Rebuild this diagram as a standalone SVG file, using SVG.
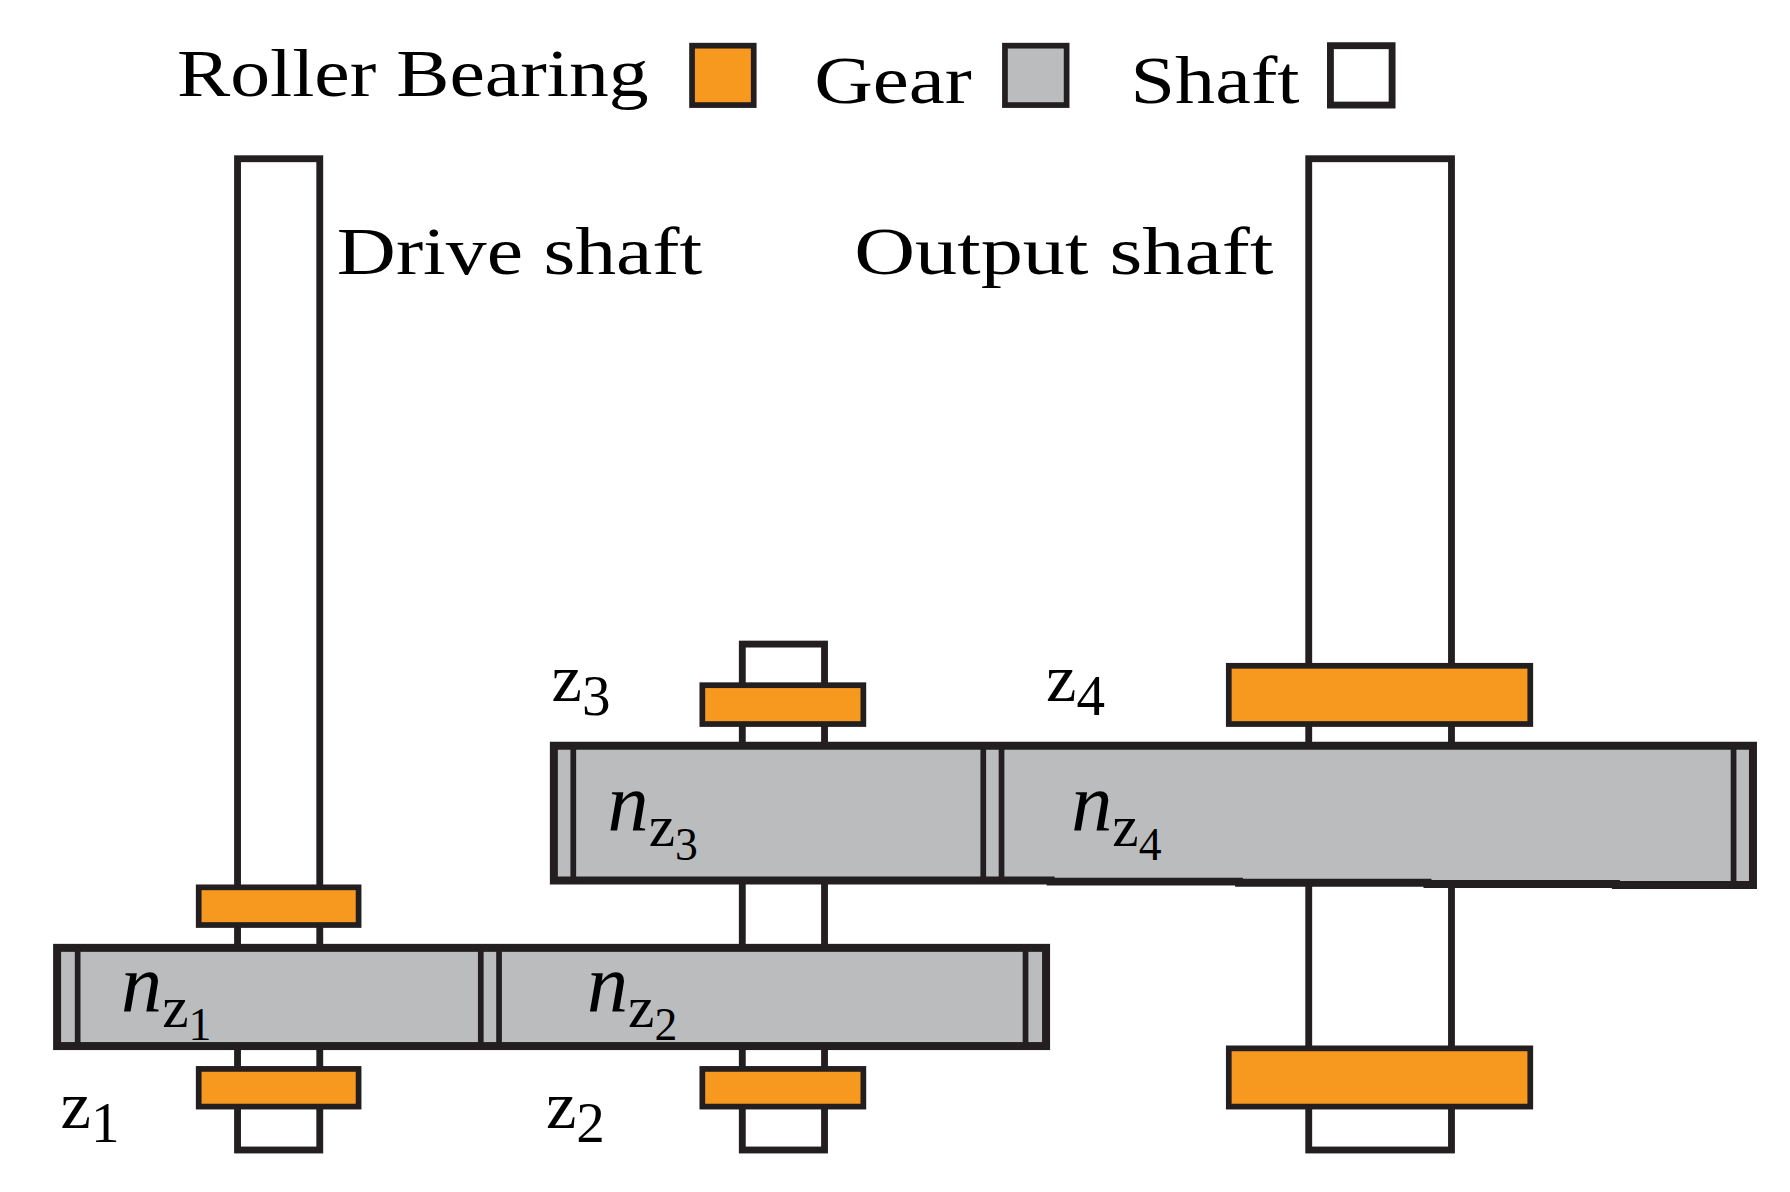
<svg xmlns="http://www.w3.org/2000/svg" width="1790" height="1192" viewBox="0 0 1790 1192">
<style>
.s{fill:#fff;stroke:#231f20;stroke-width:6}
.b{fill:#f7991f;stroke:#231f20;stroke-width:5}
.g{fill:#bbbcbe;stroke:#231f20;stroke-width:7}
.l{stroke:#231f20;stroke-width:5}
text{font-family:"Liberation Serif",serif;fill:#000}
.t{font-size:60px}
.i{font-size:72px;font-style:italic}
.sub{font-size:52px;font-style:normal}
.sub2{font-size:40px;font-style:normal}
</style>
<rect width="1790" height="1192" fill="#fff"/>
<g transform="scale(1.142)">
<g id="legend">
<text class="t" x="155" y="84" textLength="413" lengthAdjust="spacingAndGlyphs">Roller Bearing</text>
<rect class="b" x="606" y="40" width="54" height="52"/>
<text class="t" x="713" y="90" textLength="138" lengthAdjust="spacingAndGlyphs">Gear</text>
<rect x="880" y="40" width="54" height="52" fill="#bbbcbe" stroke="#231f20" stroke-width="5"/>
<text class="t" x="990" y="90" textLength="148" lengthAdjust="spacingAndGlyphs">Shaft</text>
<rect class="s" x="1165" y="40" width="54" height="52" stroke-width="5"/>
</g>
<g id="drive-shaft"><rect class="s" x="208" y="139" width="72" height="868"/></g>
<g id="output-shaft"><rect class="s" x="1146" y="139" width="125" height="868"/></g>
<g id="mid-shaft"><rect class="s" x="650" y="564" width="72" height="443"/></g>
<g id="labels">
<text class="t" x="295" y="240" textLength="320" lengthAdjust="spacingAndGlyphs">Drive shaft</text>
<text class="t" x="748" y="240" textLength="367" lengthAdjust="spacingAndGlyphs">Output shaft</text>
</g>
<g id="bearings">
<rect class="b" x="174" y="777" width="140" height="33"/>
<rect class="b" x="174" y="936" width="140" height="33"/>
<rect class="b" x="615" y="600" width="141" height="34"/>
<rect class="b" x="615" y="936" width="141" height="33"/>
<rect class="b" x="1076" y="583" width="264" height="51"/>
<rect class="b" x="1076" y="918" width="264" height="51"/>
</g>
<g id="gear-z1-z2">
<rect class="g" x="50" y="830" width="866" height="86"/>
<line class="l" x1="68" y1="830" x2="68" y2="916"/>
<line class="l" x1="421" y1="830" x2="421" y2="916"/>
<line class="l" x1="437" y1="830" x2="437" y2="916"/>
<line class="l" x1="898" y1="830" x2="898" y2="916"/>
</g>
<g id="gear-z3-z4">
<path class="g" d="M485 653 H1535 V775 H1415 V774 H1250 V773 H1085 V772 H920 V771 H485 Z"/>
<line class="l" x1="502" y1="653" x2="502" y2="771"/>
<line class="l" x1="861" y1="653" x2="861" y2="771"/>
<line class="l" x1="877" y1="653" x2="877" y2="771"/>
<line class="l" x1="1518" y1="653" x2="1518" y2="775"/>
</g>
<g id="symbols">
<text class="i" x="106" y="885">n<tspan class="sub" dy="14">z</tspan><tspan class="sub2" dy="12">1</tspan></text>
<text class="i" x="514" y="885">n<tspan class="sub" dy="14">z</tspan><tspan class="sub2" dy="12">2</tspan></text>
<text class="i" x="532" y="727">n<tspan class="sub" dy="14">z</tspan><tspan class="sub2" dy="12">3</tspan></text>
<text class="i" x="938" y="727">n<tspan class="sub" dy="14">z</tspan><tspan class="sub2" dy="12">4</tspan></text>
<text class="t" x="53" y="988" font-size="70">z<tspan font-size="50" dy="12">1</tspan></text>
<text class="t" x="478" y="988" font-size="70">z<tspan font-size="50" dy="12">2</tspan></text>
<text class="t" x="483" y="614" font-size="70">z<tspan font-size="50" dy="12">3</tspan></text>
<text class="t" x="916" y="614" font-size="70">z<tspan font-size="50" dy="12">4</tspan></text>
</g>
</g>
</svg>
